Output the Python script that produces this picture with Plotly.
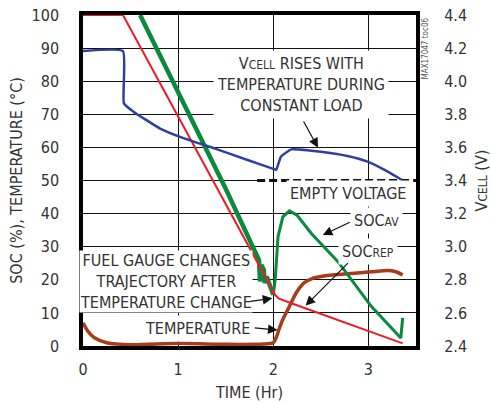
import plotly.graph_objects as go

# Discharge test: time axis in hours
# SOC_AV (green), SOC_REP (red), temperature (brown) on the left axis; VCELL (blue) on the right axis
soc_av_t = [0.60, 1.00, 1.50, 1.80, 1.85, 1.86, 1.875, 1.90, 1.91, 1.93, 1.97, 2.00,
            2.02, 2.05, 2.10, 2.17, 2.25, 2.40, 2.68, 3.03, 3.34, 3.36]
soc_av = [100, 76.5, 47.5, 29, 26, 19.5, 24.5, 23, 19, 21, 17.5, 15.5,
          20, 33, 39, 40.8, 39.5, 34, 25.5, 12.0, 2.4, 8.5]
soc_av_split = 12  # index where the noisy discharge segment ends

soc_rep_t = [0.0, 0.42, 2.02, 2.06, 2.19, 3.36]
soc_rep = [100, 100, 15.4, 14.3, 12.9, 0.8]

temp_t = [0.0, 0.05, 0.12, 0.25, 0.50, 1.00, 1.50, 1.90, 2.00, 2.03, 2.06, 2.10, 2.17,
          2.24, 2.32, 2.42, 2.50, 2.68, 3.03, 3.20, 3.28, 3.36]
temp_c = [7.0, 4.5, 2.5, 1.0, 0.4, 0.8, 0.5, 0.6, 1.0, 2.5, 5.0, 8.0, 12.0,
          16.0, 19.0, 20.5, 21.0, 21.6, 22.4, 22.8, 22.5, 21.5]

vcell_t = [0.0, 0.42, 0.43, 0.53, 0.81, 1.02, 1.38, 1.73, 2.00, 2.03, 2.08, 2.19, 2.50,
           2.78, 2.99, 3.17, 3.35]
vcell = [4.182, 4.182, 3.866, 3.816, 3.714, 3.664, 3.594, 3.524, 3.470, 3.464, 3.544, 3.588,
         3.574, 3.548, 3.514, 3.464, 3.404]

empty_t = [1.83, 3.5]
empty_v = [3.4, 3.4]

x_ticks = [0, 1, 2, 3]
y_ticks = list(range(0, 101, 10))
y2_ticks = [2.4, 2.6, 2.8, 3.0, 3.2, 3.4, 3.6, 3.8, 4.0, 4.2, 4.4]

FONT = "Liberation Sans Narrow, DejaVu Sans Condensed, Arial Narrow, sans-serif"
TXT = "#333333"
GREEN = "#0a8a3c"
RED = "#ee1c25"
BROWN = "#a63c1c"
BLUE = "#2f3f9f"

fig = go.Figure()

# empty-voltage threshold: white underlay hides the grid line, then dashes on top
fig.add_trace(go.Scatter(x=empty_t, y=empty_v, yaxis="y2", mode="lines",
                         line=dict(color="white", width=3), hoverinfo="skip"))
fig.add_trace(go.Scatter(x=empty_t, y=empty_v, yaxis="y2", mode="lines",
                         line=dict(color="#111111", width=3, dash="8px,4px")))

fig.add_trace(go.Scatter(x=vcell_t, y=vcell, yaxis="y2", mode="lines",
                         line=dict(color=BLUE, width=2.5, shape="spline", smoothing=0.4)))
fig.add_trace(go.Scatter(x=temp_t, y=temp_c, mode="lines",
                         line=dict(color=BROWN, width=3.5, shape="spline", smoothing=0.6)))
fig.add_trace(go.Scatter(x=soc_av_t[:soc_av_split], y=soc_av[:soc_av_split], mode="lines",
                         line=dict(color=GREEN, width=4.5)))
fig.add_trace(go.Scatter(x=soc_av_t[soc_av_split - 1:], y=soc_av[soc_av_split - 1:], mode="lines",
                         line=dict(color=GREEN, width=3)))
fig.add_trace(go.Scatter(x=soc_rep_t, y=soc_rep, mode="lines",
                         line=dict(color=RED, width=2)))

small = lambda s: f"<span style='font-size:12px'>{s}</span>"

label_font = dict(family=FONT, size=16, color=TXT)
# (x, y, text, padding)
texts = [
    (2.29, 78.9, f"V{small('CELL')} RISES WITH<br>TEMPERATURE DURING<br>CONSTANT LOAD", 3),
    (2.78, 46.1, "EMPTY VOLTAGE", 3),
    (3.08, 38.0, f"SOC{small('AV')}", 3),
    (3.00, 28.5, f"SOC{small('REP')}", 3),
    (0.87, 19.4, "FUEL GAUGE CHANGES<br>TRAJECTORY AFTER<br>TEMPERATURE CHANGE", 0),
    (1.20, 5.3, "TEMPERATURE", 3),
]
annotations = []
for x, y, t, pad in texts:
    annotations.append(dict(x=x, y=y, xref="x", yref="y", text=t, showarrow=False,
                            font=label_font, bgcolor="white", borderpad=pad, align="center"))

# arrows: (tail x, tail y, head x, head y) in left-axis units
arrows = [
    (2.31, 68.3, 2.47, 59.9),
    (2.82, 37.6, 2.52, 33.5),
    (2.80, 25.5, 2.34, 12.2),
    (1.745, 13.4, 1.99, 14.4),
    (1.79, 5.5, 2.045, 4.8),
]
for tx, ty, hx, hy in arrows:
    annotations.append(dict(x=hx, y=hy, ax=tx, ay=ty, xref="x", yref="y", axref="x", ayref="y",
                            text="", showarrow=True, arrowhead=2, arrowsize=1.6,
                            arrowwidth=1.2, arrowcolor="#111111", standoff=0, startstandoff=0))

annotations.append(dict(x=1.0, y=1.0, xref="paper", yref="paper", xanchor="left", yanchor="top",
                        xshift=2, yshift=-1, text="MAX17047 toc06", textangle=-90, showarrow=False,
                        font=dict(family=FONT, size=8, color="#555555")))

axis_common = dict(showline=True, linecolor="black", linewidth=3.5, mirror=True,
                   showgrid=True, gridcolor="#111111", gridwidth=1, zeroline=False,
                   ticks="outside", tickcolor="rgba(0,0,0,0)", automargin=False,
                   tickfont=dict(family=FONT, size=16, color=TXT))

fig.update_layout(
    width=491, height=404,
    margin=dict(l=83, r=75, t=15, b=58),
    paper_bgcolor="white", plot_bgcolor="white",
    showlegend=False,
    annotations=annotations,
    xaxis=dict(range=[0, 3.5], tickvals=x_ticks, ticklen=6,
               title=dict(text="TIME (Hr)", font=dict(family=FONT, size=16, color=TXT), standoff=10),
               **axis_common),
    yaxis=dict(range=[0, 100], tickvals=y_ticks, ticklen=17,
               title=dict(text="SOC (%), TEMPERATURE (°C)",
                          font=dict(family=FONT, size=16, color=TXT), standoff=6),
               **axis_common),
    yaxis2=dict(range=[2.4, 4.4], tickvals=y2_ticks, tickformat=".1f", overlaying="y", side="right",
                showgrid=False, zeroline=False, showline=False, automargin=False,
                ticks="outside", ticklen=24, tickcolor="rgba(0,0,0,0)",
                tickfont=dict(family=FONT, size=16, color=TXT),
                title=dict(text=f"V{small('CELL')} (V)",
                           font=dict(family=FONT, size=16, color=TXT), standoff=12)),
)

fig.write_html("out.html")
